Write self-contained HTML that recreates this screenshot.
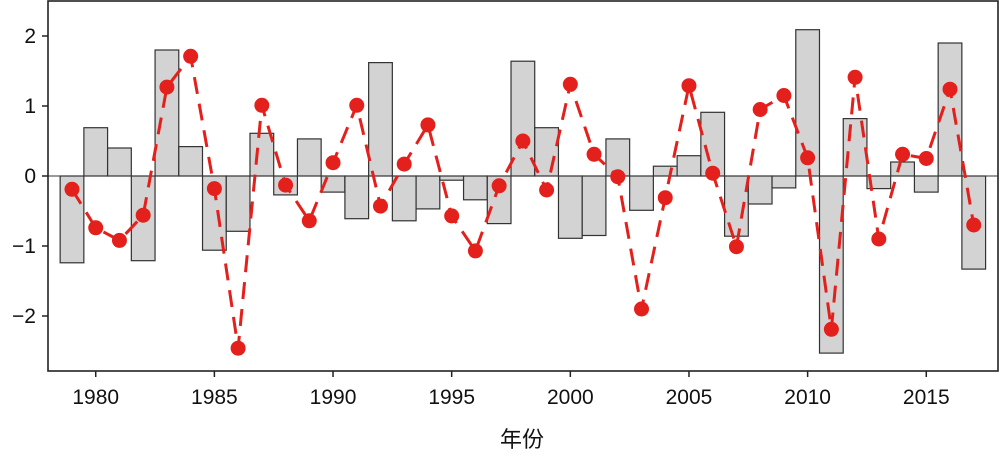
<!DOCTYPE html>
<html><head><meta charset="utf-8"><style>
body{margin:0;background:#fff}
svg text{font-family:"Liberation Sans","Noto Sans CJK SC",sans-serif;fill:#111}
</style></head><body>
<svg id="chart" width="1000" height="459" xmlns="http://www.w3.org/2000/svg"></svg>
<script>
const years=[1979,1980,1981,1982,1983,1984,1985,1986,1987,1988,1989,1990,1991,1992,1993,1994,1995,1996,1997,1998,1999,2000,2001,2002,2003,2004,2005,2006,2007,2008,2009,2010,2011,2012,2013,2014,2015,2016,2017];
const barValues=[-1.24,0.69,0.40,-1.21,1.80,0.42,-1.06,-0.79,0.61,-0.27,0.53,-0.23,-0.61,1.62,-0.64,-0.47,-0.06,-0.34,-0.68,1.64,0.69,-0.89,-0.85,0.53,-0.49,0.14,0.29,0.91,-0.86,-0.40,-0.17,2.09,-2.53,0.82,-0.18,0.20,-0.23,1.90,-1.33];
const lineValues=[-0.19,-0.74,-0.92,-0.56,1.27,1.71,-0.18,-2.46,1.01,-0.13,-0.64,0.19,1.01,-0.43,0.17,0.73,-0.57,-1.07,-0.14,0.50,-0.20,1.31,0.31,-0.01,-1.90,-0.31,1.29,0.04,-1.01,0.95,1.15,0.26,-2.19,1.41,-0.90,0.31,0.25,1.24,-0.70];
const yTicks=[2,1,0,-1,-2];
const xTicks=[1980,1985,1990,1995,2000,2005,2010,2015];
const NS="http://www.w3.org/2000/svg";
const svg=document.getElementById('chart');
const X=y=>72+(y-1979)*23.73;
const Y=v=>176-v*70;
function mk(t,a,p){const e=document.createElementNS(NS,t);for(const k in a)e.setAttribute(k,a[k]);(p||svg).appendChild(e);return e;}
const bw=23.7;
years.forEach((yr,i)=>{const v=barValues[i];
 const r=mk('rect',{x:X(yr)-bw/2,y:Math.min(Y(v),Y(0)),width:bw,height:Math.abs(Y(v)-Y(0)),fill:'#d3d3d3',stroke:'#333','stroke-width':1.2});
 
 
});
const zl=mk('line',{x1:48,x2:998,y1:Y(0),y2:Y(0),stroke:'#333','stroke-width':1});


const pts=years.map((yr,i)=>X(yr)+','+Y(lineValues[i])).join(' ');
const pl=mk('polyline',{points:pts,fill:'none',stroke:'#e3201b','stroke-width':3,'stroke-dasharray':'17 10'});


years.forEach((yr,i)=>{
 const c=mk('circle',{cx:X(yr),cy:Y(lineValues[i]),r:7.5,fill:'#e3201b'});
 
 
});
const fr=mk('rect',{x:48,y:1,width:950,height:370,fill:'none',stroke:'#222','stroke-width':1.6});


yTicks.forEach(v=>{
 mk('line',{x1:42,x2:48,y1:Y(v),y2:Y(v),stroke:'#222','stroke-width':1.5});
 const t=mk('text',{x:36,y:Y(v)+7,'text-anchor':'end','font-size':21});
 t.textContent=v<0?'\u2212'+(-v):String(v);
 
 
});
xTicks.forEach(v=>{
 mk('line',{x1:X(v),x2:X(v),y1:371,y2:377,stroke:'#222','stroke-width':1.5});
 const t=mk('text',{x:X(v),y:404,'text-anchor':'middle','font-size':21});
 t.textContent=v;
 
 
});
const xt=mk('text',{x:522,y:447,'text-anchor':'middle','font-size':22});
xt.textContent='年份';


</script>
</body></html>
